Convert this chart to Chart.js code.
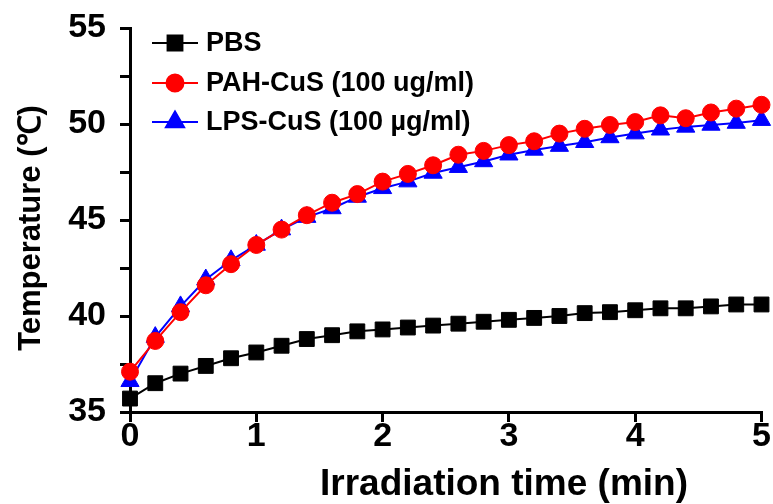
<!DOCTYPE html>
<html>
<head>
<meta charset="utf-8">
<script src="https://cdn.jsdelivr.net/npm/chart.js@4"></script>
<style>
  html, body { margin: 0; padding: 0; background: #fff; }
  #wrap { width: 773px; height: 504px; position: relative; }
</style>
</head>
<body>
<div id="wrap"><canvas id="c" width="773" height="504"></canvas></div>
<script>
// ---- data ----
const times = [0, 0.2, 0.4, 0.6, 0.8, 1.0, 1.2, 1.4, 1.6, 1.8, 2.0, 2.2, 2.4,
               2.6, 2.8, 3.0, 3.2, 3.4, 3.6, 3.8, 4.0, 4.2, 4.4, 4.6, 4.8, 5.0];
const pbs = [35.7, 36.5, 37.0, 37.4, 37.8, 38.1, 38.45, 38.8, 39.0, 39.2, 39.3, 39.4, 39.5,
             39.6, 39.7, 39.8, 39.9, 40.0, 40.15, 40.2, 40.3, 40.4, 40.4, 40.5, 40.6, 40.6];
const pahCuS = [37.1, 38.7, 40.2, 41.6, 42.7, 43.7, 44.5, 45.25, 45.9, 46.35, 47.0, 47.4, 47.85,
                48.4, 48.6, 48.9, 49.1, 49.5, 49.75, 49.95, 50.1, 50.45, 50.3, 50.6, 50.8, 51.0];
const lpsCuS = [36.6, 38.9, 40.5, 41.9, 42.9, 43.7, 44.5, 45.15, 45.6, 46.2, 46.65, 47.0, 47.45,
                47.75, 48.05, 48.4, 48.65, 48.85, 49.05, 49.3, 49.5, 49.7, 49.85, 49.95, 50.05, 50.2];
const seriesNames = ['PBS', 'PAH-CuS (100 ug/ml)', 'LPS-CuS (100 µg/ml)'];
const xTitle = 'Irradiation time (min)';
const yTitle = 'Temperature (\u2103)';
const yMajorTicks = [35, 40, 45, 50, 55];

const toXY = arr => arr.map((v, i) => ({x: times[i], y: v}));
const FONT = "'Liberation Sans', Arial, sans-serif";

const legendPlugin = {
  id: 'insideLegend',
  afterDatasetsDraw(chart) {
    const ctx = chart.ctx;
    const x0 = 152, x1 = 198, tx = 206;
    const ys = [43, 83, 122];
    ctx.save();
    chart.data.datasets.forEach((ds, i) => {
      const y = ys[i];
      ctx.strokeStyle = ds.borderColor;
      ctx.lineWidth = ds.borderWidth;
      ctx.beginPath(); ctx.moveTo(x0, y); ctx.lineTo(x1, y); ctx.stroke();
      ctx.fillStyle = ds.pointBackgroundColor;
      ctx.strokeStyle = ds.pointBorderColor;
      Chart.helpers.drawPoint(ctx, {pointStyle: ds.pointStyle, radius: ds.pointRadius, rotation: 0, borderWidth: 1}, (x0 + x1) / 2, y);
      ctx.fillStyle = '#000';
      ctx.font = "bold 27px " + FONT;
      ctx.textBaseline = 'middle';
      ctx.textAlign = 'left';
      ctx.fillText(ds.label, tx, y + 1);
    });
    ctx.restore();
  }
};

// axis titles drawn at the reference's positions
const titlePlugin = {
  id: 'axisTitles',
  afterDraw(chart) {
    const ctx = chart.ctx;
    const xs = chart.options.scales.x.title, ys = chart.options.scales.y.title;
    ctx.save();
    ctx.fillStyle = '#000';
    ctx.textAlign = 'center';
    ctx.textBaseline = 'middle';
    ctx.font = 'bold 37px ' + FONT;
    ctx.fillText(xs.text, 504, 485);
    ctx.translate(31, 228);
    ctx.rotate(-Math.PI / 2);
    ctx.font = 'bold 31px ' + FONT;
    ctx.fillText(ys.text, 0, 0);
    ctx.restore();
  }
};

new Chart(document.getElementById('c'), {
  type: 'scatter',
  data: {
    datasets: [
      {label: seriesNames[0], data: toXY(pbs), showLine: true, borderColor: '#000', borderWidth: 2,
       pointStyle: 'rect', pointRadius: 10.5, pointBackgroundColor: '#000', pointBorderColor: '#000', pointBorderWidth: 1},
      {label: seriesNames[1], data: toXY(pahCuS), showLine: true, borderColor: '#ff0000', borderWidth: 2,
       pointStyle: 'circle', pointRadius: 8.5, pointBackgroundColor: '#ff0000', pointBorderColor: '#ff0000', pointBorderWidth: 1},
      {label: seriesNames[2], data: toXY(lpsCuS), showLine: true, borderColor: '#0000ff', borderWidth: 2,
       pointStyle: 'triangle', pointRadius: 10.5, pointBackgroundColor: '#0000ff', pointBorderColor: '#0000ff', pointBorderWidth: 1}
    ]
  },
  options: {
    responsive: false,
    animation: false,
    clip: false,
    layout: {padding: {left: 0, right: 11, top: 28, bottom: 0}},
    plugins: {legend: {display: false}, tooltip: {enabled: false}},
    scales: {
      x: {
        type: 'linear', min: 0, max: 5,
        border: {color: '#000', width: 3},
        grid: {drawOnChartArea: false, drawTicks: true, tickLength: 10, color: '#000', lineWidth: 3},
        ticks: {stepSize: 1, color: '#000', padding: -6, font: {family: FONT, size: 34, weight: 'bold'}, maxRotation: 0},
        title: {display: false, text: xTitle},
        afterFit(scale) { scale.height = 92; }
      },
      y: {
        type: 'linear', min: 35, max: 55,
        border: {color: '#000', width: 3},
        grid: {drawOnChartArea: false, drawTicks: true, tickLength: 10, color: '#000', lineWidth: 3},
        ticks: {
          stepSize: 2.5, color: '#000', padding: 14, font: {family: FONT, size: 34, weight: 'bold', lineHeight: 0.4},
          callback: v => yMajorTicks.includes(v) ? String(v) : ''
        },
        title: {display: false, text: yTitle},
        afterFit(scale) { scale.width = 130; }
      }
    }
  },
  plugins: [legendPlugin, titlePlugin]
});
</script>
</body>
</html>
